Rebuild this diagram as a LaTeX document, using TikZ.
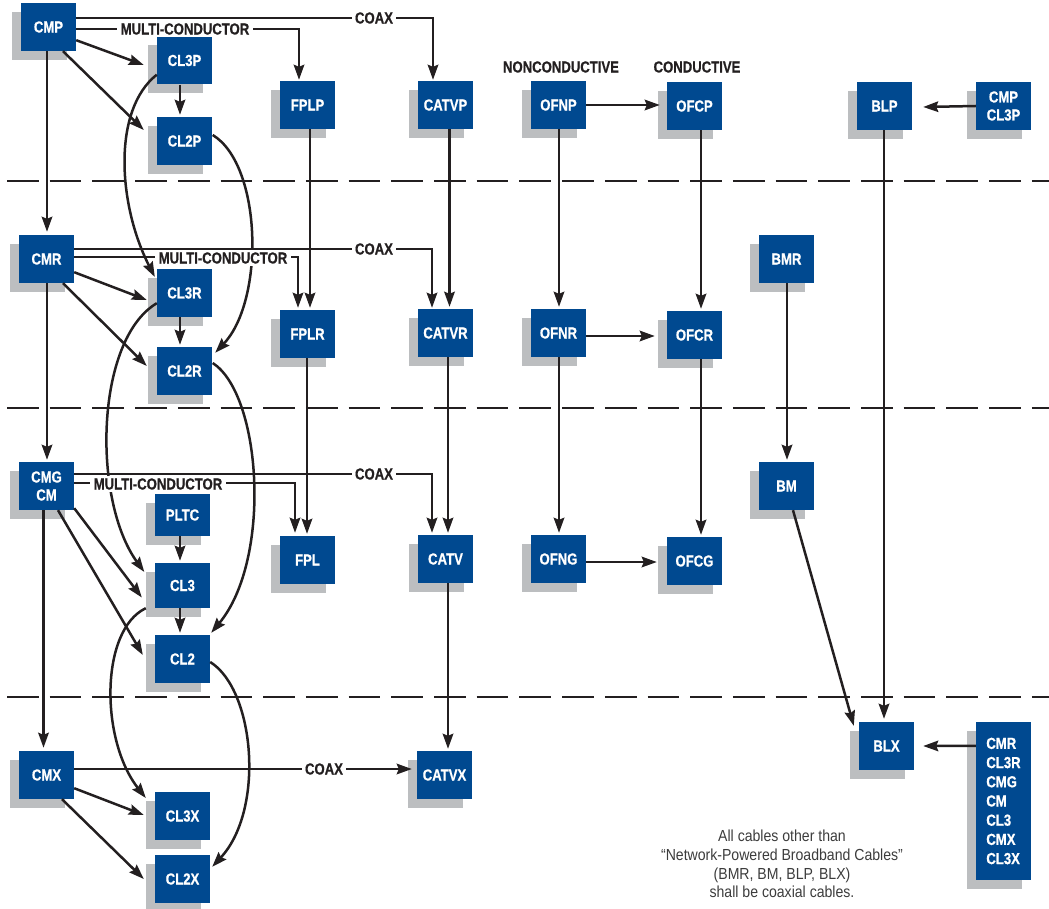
\documentclass[tikz,border=0pt]{standalone}
\usepackage{fontspec}
\setmainfont{Liberation Sans}[FakeStretch=0.88]
\newfontfamily\labfont{Liberation Sans}[FakeStretch=0.82,FakeBold=0.6]
\usetikzlibrary{arrows.meta,calc,shadows}
\definecolor{boxblue}{RGB}{0,73,144}
\definecolor{shadowgrey}{RGB}{188,190,192}
\definecolor{linec}{RGB}{35,31,32}
\definecolor{textgrey}{RGB}{60,60,60}
\begin{document}
\begin{tikzpicture}[x=1pt,y=-1pt,
  box/.style={fill=boxblue, text=white, minimum width=55pt, minimum height=48pt, inner sep=0pt,
    font=\labfont\bfseries\fontsize{16}{18}\selectfont, align=center,
    general shadow={fill=shadowgrey, shadow xshift=-9pt, shadow yshift=-9pt}},
  arr/.style={draw=linec, line width=2.5pt, -{Stealth[length=15pt,width=10.5pt,inset=2pt]}},
  lab/.style={fill=white, text=linec, inner ysep=2pt, inner xsep=3.5pt, font=\labfont\bfseries\fontsize{16}{18}\selectfont},
  dashline/.style={draw=linec, line width=2.6pt, dash pattern=on 31.7pt off 11pt}]
\useasboundingbox (0,0) rectangle (1049,909);

% dashed separators
\draw[dashline] (7,181) -- (1049,181);
\draw[dashline] (7,408) -- (1049,408);
\draw[dashline] (7,697) -- (1049,697);

% row P
\node[box] (CMP) at (48.5,27) {CMP};
\node[box] (CL3P) at (184.5,60.5) {CL3P};
\node[box] (CL2P) at (184.5,141) {CL2P};
\node[box] (FPLP) at (307.5,105) {FPLP};
\node[box] (CATVP) at (445.5,105) {CATVP};
\node[box] (OFNP) at (558.5,105) {OFNP};
\node[box] (OFCP) at (694.5,106) {OFCP};
\node[box] (BLP) at (884.5,106) {BLP};
\node[box] (PB) at (1003.5,106) {CMP\\CL3P};
% row R
\node[box] (CMR) at (46.5,259) {CMR};
\node[box] (CL3R) at (184.5,293) {CL3R};
\node[box] (CL2R) at (184.5,371) {CL2R};
\node[box] (FPLR) at (307.5,334) {FPLR};
\node[box] (CATVR) at (445.5,333) {CATVR};
\node[box] (OFNR) at (558.5,333) {OFNR};
\node[box] (OFCR) at (694.5,335) {OFCR};
\node[box] (BMR) at (786.5,259) {BMR};
% row G
\node[box] (CMG) at (46.5,486) {CMG\\CM};
\node[box, minimum height=42pt] (PLTC) at (182.5,515) {PLTC};
\node[box, minimum height=45pt] (CL3) at (182.5,585.5) {CL3};
\node[box] (CL2) at (182.5,659) {CL2};
\node[box] (FPL) at (307.5,560) {FPL};
\node[box] (CATV) at (445.5,559) {CATV};
\node[box] (OFNG) at (558.5,559) {OFNG};
\node[box] (OFCG) at (694.5,561) {OFCG};
\node[box] (BM) at (786.5,486) {BM};
% row X
\node[box] (CMX) at (46.5,775) {CMX};
\node[box] (CL3X) at (182.5,816) {CL3X};
\node[box] (CL2X) at (182.5,879) {CL2X};
\node[box] (CATVX) at (444.5,775) {CATVX};
\node[box] (BLX) at (886.5,746) {BLX};
\node[box, minimum height=158pt, align=left, font=\labfont\bfseries\fontsize{16}{19.2}\selectfont] (PX) at (1003.5,801) {CMR\\CL3R\\CMG\\CM\\CL3\\CMX\\CL3X};

% row P connectors
\draw[arr] ($(CMP.south)+(-1.5,0)$) -- ($(CMR.north)+(0.5,-3)$);
\draw[arr] ($(CMP.south east)+(0,-11)$) -- ($(CL3P.west)+(-13,4.5)$);
\draw[arr] ($(CMP.south)+(14.5,0)$) -- ($(CL2P.west)+(-13,-11)$);
\draw[arr] ($(CL3P.south)+(-4.5,0)$) -- ($(CL2P.north)+(-4.5,-2)$);
\draw[arr] ($(CMP.east)+(0,2)$) -| ($(FPLP.north)+(-8.5,-1)$);
\draw[arr] ($(CMP.east)+(0,-9)$) -| ($(CATVP.north)+(-12.5,-1)$);
\draw[arr] ($(FPLP.south)+(2.5,0)$) -- ($(FPLR.north)+(2.5,-2)$);
\draw[arr] ($(CATVP.south)+(4,0)$) -- ($(CATVR.north)+(4,-2)$);
\draw[arr] (OFNP.east) -- ($(OFCP.west)+(-7,-1)$);
\draw[arr] ($(OFNP.south)+(0.5,0)$) -- ($(OFNR.north)+(0.5,-2)$);
\draw[arr] ($(OFCP.south)+(6.5,0)$) -- ($(OFCR.north)+(6.5,-2)$);
\draw[arr] (PB.west) -- ($(BLP.east)+(11,1)$);
\draw[arr] ($(BLP.south)+(-0.5,0)$) -- ($(BLX.north)+(-2.5,-3)$);
\draw[arr] ($(CL3P.south west)+(0,-10)$) .. controls (112,110) and (118,205) .. ($(CL3R.west)+(-2,-16)$);
\draw[arr] ($(CL2P.east)+(0.5,-6)$) .. controls (262,165) and (265,300) .. ($(CL2R.north east)+(3,6)$);

% row R connectors
\draw[arr] ($(CMR.south)+(0.5,0)$) -- ($(CMG.north)+(0.5,-2)$);
\draw[arr] ($(CMR.south east)+(0,-11)$) -- ($(CL3R.west)+(-10,7)$);
\draw[arr] ($(CMR.south)+(16.5,0)$) -- ($(CL2R.west)+(-10,-5)$);
\draw[arr] ($(CL3R.south)+(-4.5,0)$) -- ($(CL2R.north)+(-4.5,-2)$);
\draw[arr] ($(CMR.east)+(0,-2)$) -| ($(FPLR.north)+(-9.5,-2)$);
\draw[arr] ($(CMR.east)+(0,-10)$) -| ($(CATVR.north)+(-13.5,-1)$);
\draw[arr] ($(FPLR.south)+(-0.5,0)$) -- ($(FPL.north)+(-0.5,-2)$);
\draw[arr] ($(CATVR.south)+(2.5,0)$) -- ($(CATV.north)+(2.5,-2)$);
\draw[arr] ($(OFNR.east)+(0,3)$) -- ($(OFCR.west)+(-12,1)$);
\draw[arr] ($(OFNR.south)+(0.5,0)$) -- ($(OFNG.north)+(0.5,-2)$);
\draw[arr] ($(OFCR.south)+(6.5,0)$) -- ($(OFCG.north)+(6.5,-2)$);
\draw[arr] ($(BMR.south)+(0.5,0)$) -- ($(BM.north)+(0.5,-2)$);
\draw[arr] ($(CL3R.south west)+(0,-14)$) .. controls (95,340) and (92,500) .. ($(CL3.west)+(-10.5,-13.5)$);
\draw[arr] ($(CL2R.east)+(0.5,-8)$) .. controls (262,395) and (272,560) .. ($(CL2.north east)+(1,-2)$);

% row G connectors
\draw[arr] ($(CMG.south)+(-3,0)$) -- ($(CMX.north)+(-3,-3)$);
\draw[arr] ($(CMG.south east)+(0,-2)$) -- ($(CL3.west)+(-13,12)$);
\draw[arr] ($(CMG.south)+(11.5,0)$) -- ($(CL2.west)+(-12,-4)$);
\draw[arr] ($(PLTC.south)+(-2.5,0)$) -- ($(CL3.north)+(-2.5,-2)$);
\draw[arr] ($(CL3.south)+(-2.5,0)$) -- ($(CL2.north)+(-2.5,-2)$);
\draw[arr] ($(CMG.east)+(0,-3)$) -| ($(FPL.north)+(-12.5,-3)$);
\draw[arr] ($(CMG.east)+(0,-12)$) -| ($(CATV.north)+(-13.5,-2)$);
\draw[arr] ($(CATV.south)+(2.5,0)$) -- ($(CATVX.north)+(3.5,-2)$);
\draw[arr] ($(OFNG.east)+(0,3)$) -- ($(OFCG.west)+(-10,1)$);
\draw[arr] ($(BM.south)+(6.5,0)$) -- ($(BLX.north west)+(-5,4)$);
\draw[arr] ($(CL3.south west)+(-9,0)$) .. controls (100,630) and (100,740) .. ($(CL3X.west)+(-9,-18)$);
\draw[arr] ($(CL2.east)+(0,3)$) .. controls (255,690) and (265,810) .. ($(CL2X.north east)+(2,12)$);

% row X connectors
\draw[arr] ($(CMX.east)+(0,-6)$) -- ($(CATVX.west)+(-5,-6)$);
\draw[arr] ($(CMX.south east)+(0,-11)$) -- ($(CL3X.west)+(-11,-1)$);
\draw[arr] ($(CMX.south)+(15.5,0)$) -- ($(CL2X.west)+(-11,0)$);
\draw[arr] ($(PX.north west)+(0,24)$) -- ($(BLX.east)+(9,0)$);

% line labels
\node[lab] (mc1) at (185,29) {MULTI-CONDUCTOR};
\node[lab] (cx1) at (374,18) {COAX};
\node[lab] (mc2) at (223,258) {MULTI-CONDUCTOR};
\node[lab] (cx2) at (374,249) {COAX};
\node[lab] (mc3) at (158,484) {MULTI-CONDUCTOR};
\node[lab] (cx3) at (374,474) {COAX};
\node[lab] (cx4) at (324,769) {COAX};
\node[lab] (nonc) at (561,67) {NONCONDUCTIVE};
\node[lab] (cond) at (697,67) {CONDUCTIVE};

\node[text=textgrey, align=center, inner sep=0pt, font=\fontsize{16}{18.8}\selectfont] (note) at (782,864)
  {All cables other than\\“Network-Powered Broadband Cables”\\(BMR, BM, BLP, BLX)\\shall be coaxial cables.};
\end{tikzpicture}
\end{document}
